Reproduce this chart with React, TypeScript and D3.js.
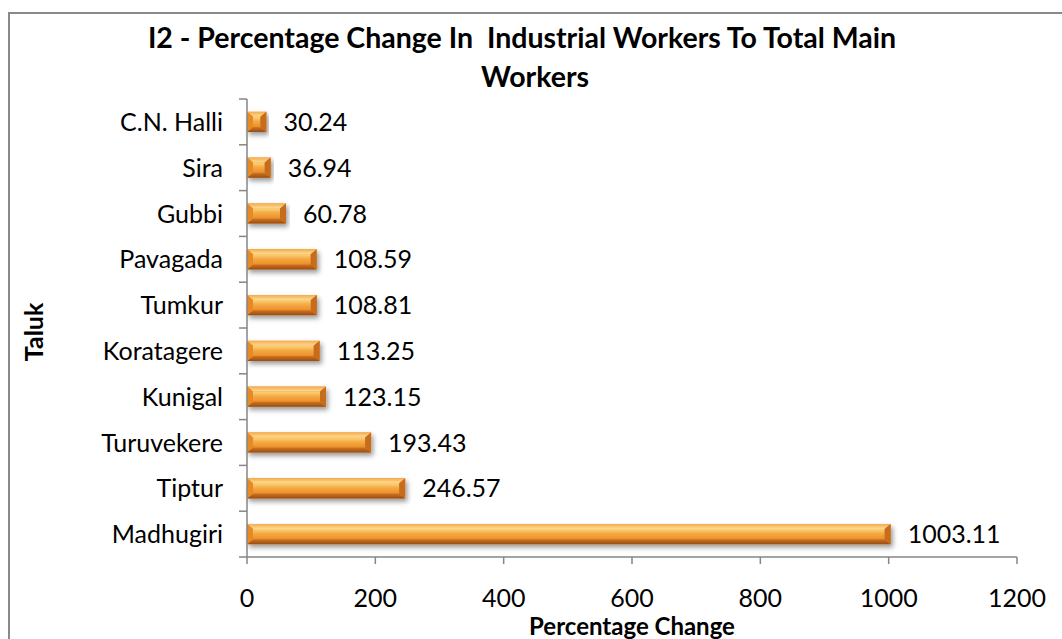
import { useEffect } from 'react';
import * as d3 from 'd3';

// values (top to bottom)
const taluks = [
  'C.N. Halli',
  'Sira',
  'Gubbi',
  'Pavagada',
  'Tumkur',
  'Koratagere',
  'Kunigal',
  'Turuvekere',
  'Tiptur',
  'Madhugiri',
];
const values = [30.24, 36.94, 60.78, 108.59, 108.81, 113.25, 123.15, 193.43, 246.57, 1003.11];
const xTicks = [0, 200, 400, 600, 800, 1000, 1200];

const titleLines = ['I2 - Percentage Change In  Industrial Workers To Total Main', 'Workers'];
const xTitle = 'Percentage Change';
const yTitle = 'Taluk';

const width = 1062;
const height = 639;
const font = 'Lato, "Open Sans", sans-serif';

const App = () => {
  useEffect(() => {
    document.body.style.margin = '0';
  }, []);

  const xScale = d3.scaleLinear().domain([0, 1200]).range([247, 1017]);
  const yScale = d3
    .scaleBand()
    .domain(taluks)
    .range([99, 557])
    .paddingInner(0.56)
    .paddingOuter(0.28);

  const step = yScale.step();
  const bw = yScale.bandwidth();
  const [y0, y1] = yScale.range();
  const x0 = xScale(0);

  // bevelled bar: face + four trapezoid edges
  const bevel = (x: number, y: number, w: number, h: number) => {
    const bx = Math.min(6, w / 2);
    const by = Math.min(5, h / 2);
    const r = x + w;
    const b = y + h;
    return {
      top: `M${x},${y}L${r},${y}L${r - bx},${y + by}L${x + bx},${y + by}Z`,
      bottom: `M${x},${b}L${r},${b}L${r - bx},${b - by}L${x + bx},${b - by}Z`,
      left: `M${x},${y}L${x + bx},${y + by}L${x + bx},${b - by}L${x},${b}Z`,
      right: `M${r},${y}L${r - bx},${y + by}L${r - bx},${b - by}L${r},${b}Z`,
      face: { x: x + bx, y: y + by, w: Math.max(0, w - 2 * bx), h: Math.max(0, h - 2 * by) },
    };
  };

  return (
    <svg
      width={width}
      height={height}
      style={{ display: 'block', position: 'absolute', left: 0, top: 0 }}
    >
      <defs>
        <linearGradient id="gTop" x1="0" y1="0" x2="0" y2="1">
          <stop offset="0" stopColor="#f5ac4f" />
          <stop offset="1" stopColor="#fddd92" />
        </linearGradient>
        <linearGradient id="gFace" x1="0" y1="0" x2="0" y2="1">
          <stop offset="0" stopColor="#fbd37c" />
          <stop offset="0.45" stopColor="#f5a944" />
          <stop offset="1" stopColor="#ec8f28" />
        </linearGradient>
        <linearGradient id="gBottom" x1="0" y1="0" x2="0" y2="1">
          <stop offset="0" stopColor="#d07522" />
          <stop offset="1" stopColor="#974c16" />
        </linearGradient>
        <filter id="shadow" x="-10%" y="-50%" width="120%" height="220%">
          <feDropShadow dx="2" dy="3" stdDeviation="2.5" floodColor="#000" floodOpacity="0.4" />
        </filter>
      </defs>

      <rect x={0} y={0} width={width} height={height} fill="#fff" />
      <rect x={9} y={13} width={1070} height={660} fill="#fff" stroke="#898989" strokeWidth={2} />

      {/* title */}
      <text
        x={522}
        y={48}
        textAnchor="middle"
        fontFamily={font}
        fontWeight="bold"
        fontSize={28.5}
        fill="#000"
      >
        {titleLines.map((t, i) => (
          <tspan key={i} x={i === 0 ? 522 : 535} dy={i === 0 ? 0 : 39} style={{ whiteSpace: 'pre' }}>
            {t}
          </tspan>
        ))}
      </text>

      {/* bars */}
      {taluks.map((t, i) => {
        const y = yScale(t)!;
        const w = xScale(values[i]) - x0;
        const p = bevel(x0, y, w, bw);
        return (
          <g key={t} filter="url(#shadow)">
            <rect x={x0} y={y} width={w} height={bw} fill="#ec8f28" />
            <rect x={p.face.x} y={p.face.y} width={p.face.w} height={p.face.h} fill="url(#gFace)" />
            <path d={p.top} fill="url(#gTop)" />
            <path d={p.bottom} fill="url(#gBottom)" />
            <path d={p.left} fill="#e68a28" />
            <path d={p.right} fill="#c66c1f" />
          </g>
        );
      })}

      {/* data labels */}
      {taluks.map((t, i) => (
        <text
          key={t}
          x={xScale(values[i]) + 17}
          y={yScale(t)! + bw / 2}
          dy="0.36em"
          fontFamily={font}
          fontSize={25}
          fill="#000"
        >
          {values[i].toFixed(2)}
        </text>
      ))}

      {/* y axis */}
      <line x1={x0} x2={x0} y1={y0} y2={y1} stroke="#868686" strokeWidth={1.5} />
      {d3.range(taluks.length + 1).map((i) => (
        <line
          key={i}
          x1={x0 - 8}
          x2={x0}
          y1={y0 + i * step}
          y2={y0 + i * step}
          stroke="#868686"
          strokeWidth={1.5}
        />
      ))}
      {taluks.map((t) => (
        <text
          key={t}
          x={x0 - 24}
          y={yScale(t)! + bw / 2}
          dy="0.36em"
          textAnchor="end"
          fontFamily={font}
          fontSize={25}
          fill="#000"
        >
          {t}
        </text>
      ))}

      {/* x axis */}
      <line x1={x0} x2={xScale(1200)} y1={y1} y2={y1} stroke="#868686" strokeWidth={1.5} />
      {xTicks.map((v) => (
        <g key={v}>
          <line x1={xScale(v)} x2={xScale(v)} y1={y1} y2={y1 + 7} stroke="#868686" strokeWidth={1.5} />
          <text
            x={xScale(v)}
            y={607}
            textAnchor="middle"
            fontFamily={font}
            fontSize={25}
            fill="#000"
          >
            {v}
          </text>
        </g>
      ))}

      {/* axis titles */}
      <text
        x={(x0 + xScale(1200)) / 2}
        y={635}
        textAnchor="middle"
        fontFamily={font}
        fontWeight="bold"
        fontSize={24}
        fill="#000"
      >
        {xTitle}
      </text>
      <text
        transform={`translate(43,${(y0 + y1) / 2 + 4}) rotate(-90)`}
        textAnchor="middle"
        fontFamily={font}
        fontWeight="bold"
        fontSize={25}
        fill="#000"
      >
        {yTitle}
      </text>
    </svg>
  );
};

export default App;
